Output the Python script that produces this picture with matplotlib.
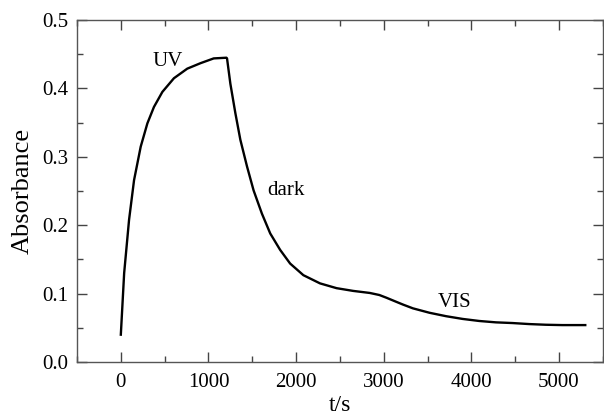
import matplotlib
matplotlib.use("Agg")
import matplotlib.pyplot as plt
from matplotlib.ticker import MultipleLocator, FormatStrFormatter

plt.rcParams['font.family'] = ['Liberation Serif', 'DejaVu Serif']

t = [0, 38, 94, 151, 227, 303, 378, 474, 606, 758, 909, 1060, 1205,
     1212, 1250, 1307, 1364, 1440, 1515, 1610, 1705, 1818, 1932, 2083,
     2273, 2462, 2651, 2841, 2950, 3031, 3144, 3220, 3333, 3523, 3712,
     3901, 4091, 4280, 4469, 4659, 4849, 5038, 5300]
absorb = [0.040, 0.130, 0.208, 0.266, 0.315, 0.349, 0.373, 0.395, 0.415,
          0.429, 0.437, 0.444, 0.445,
          0.444, 0.407, 0.364, 0.325, 0.286, 0.251, 0.217, 0.188, 0.164,
          0.144, 0.127, 0.115, 0.108, 0.104, 0.101, 0.098, 0.094, 0.088,
          0.084, 0.0785, 0.072, 0.067, 0.063, 0.060, 0.058, 0.057, 0.0555,
          0.0545, 0.054, 0.054]

labels = ["UV", "dark", "VIS"]
label_t = [530, 1885, 3807]
label_a = [0.440, 0.251, 0.087]

fig = plt.figure(figsize=(6.04, 4.19), dpi=100)
ax = fig.add_axes([0.1275, 0.136, 0.8705, 0.816])
ax.plot(t, absorb, color='black', lw=1.7)

for s, xx, yy in zip(labels, label_t, label_a):
    ax.text(xx, yy, s, fontsize=15, ha='center', va='center')

ax.set_xlim(-500, 5500)
ax.set_ylim(0.0, 0.5)
ax.xaxis.set_major_locator(MultipleLocator(1000))
ax.xaxis.set_minor_locator(MultipleLocator(500))
ax.yaxis.set_major_locator(MultipleLocator(0.1))
ax.yaxis.set_minor_locator(MultipleLocator(0.05))
ax.yaxis.set_major_formatter(FormatStrFormatter('%.1f'))
ax.tick_params(which='both', direction='in', top=True, right=True,
               labelsize=15, color='#444444', width=1.0)
ax.tick_params(which='major', length=7)
ax.tick_params(axis='x', which='major', pad=8)
ax.tick_params(axis='y', which='major', pad=6)
ax.tick_params(which='minor', length=4)
for sp in ax.spines.values():
    sp.set_color('#555555')
    sp.set_linewidth(1.0)

ax.set_xlabel("t/s", fontsize=17, labelpad=2)
ax.set_ylabel("Absorbance", fontsize=19, labelpad=6)

fig.savefig("out.png", dpi=100)
